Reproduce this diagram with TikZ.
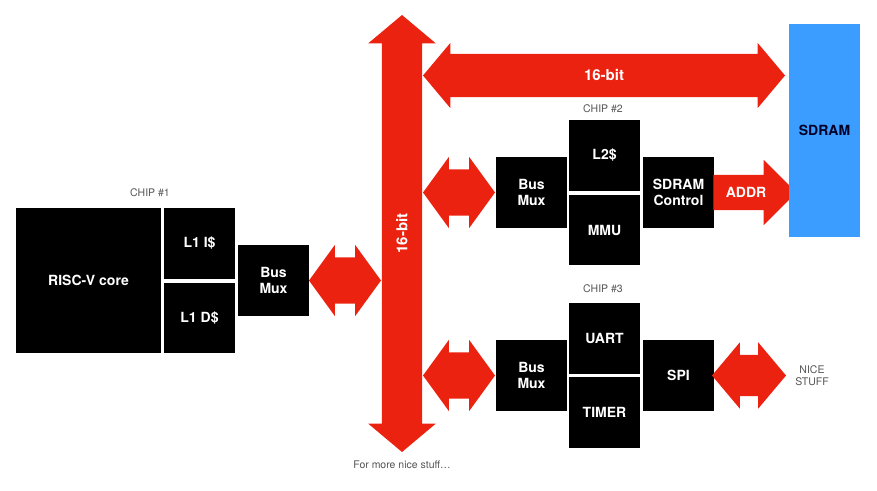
\documentclass[tikz,border=0pt]{standalone}
\usepackage{fontspec}
\setmainfont{TeX Gyre Heros}
\usepackage{xcolor}
\usepackage{tikz}
\usetikzlibrary{shapes,shapes.arrows,arrows.meta,positioning,calc}
\definecolor{busred}{RGB}{236,34,16}
\definecolor{ramblue}{RGB}{59,157,255}
\definecolor{notegray}{RGB}{85,85,85}

\begin{document}
\begin{tikzpicture}[
    x=1pt, y=-1pt,
    blk/.style={rectangle, fill=black, text=white, inner sep=0pt, minimum width=71pt, minimum height=71pt, align=center, font=\fontsize{14}{16.5}\selectfont\bfseries},
    note/.style={text=notegray, align=center, font=\fontsize{10.5}{12}\selectfont},
    fatbus/.style={double arrow, fill=busred, text=white, inner sep=0pt, double arrow head indent=0pt, font=\fontsize{15}{17}\selectfont\bfseries},
    fatlink/.style={fatbus, inner ysep=23pt, minimum height=72pt, minimum width=71pt, double arrow head extend=12.5pt, double arrow tip angle=108}
]
    \useasboundingbox (0,0) rectangle (877,490);

    % Chip 1: core, caches and bus mux
    \node[blk, minimum width=145pt, minimum height=145pt] (core) at (88.5,280.5) {RISC-V core};
    \node[blk] (icache) at (199.5,243.5) {L1 I\$};
    \node[blk, minimum height=70pt] (dcache) at (199.5,318) {L1 D\$};
    \node[blk] (mux1) at (273.5,280.5) {Bus\\Mux};
    \node[note] at (150,193) {CHIP \#1};

    % Main buses
    \node[fatbus, rotate=90, text height=25.3pt, text depth=14.7pt, minimum height=437pt, minimum width=67pt, double arrow head extend=13.5pt, double arrow tip angle=100] (vbus) at (402,233.5) {16-bit};
    \node[fatbus, text height=26.8pt, text depth=16.2pt, minimum height=362pt, minimum width=65pt, double arrow head extend=11pt, double arrow tip angle=100] (hbus) at (604,75.5) {16-bit};
    \node[fatlink] (link1) at (345,280.5) {};
    \node[note] at (402,465) {For more nice stuff\ldots};

    % Chip 2: memory side
    \node[blk] (mux2) at (531.5,192.5) {Bus\\Mux};
    \node[blk] (ltwo) at (604.5,155.5) {L2\$};
    \node[blk, minimum height=70pt] (mmu) at (604.5,230) {MMU};
    \node[blk] (sdctl) at (678.5,192.5) {SDRAM\\Control};
    \node[note] at (603,109) {CHIP \#2};
    \node[fatlink] (link2) at (459,192.5) {};
    \node[single arrow, fill=busred, text=white, inner sep=0pt, text height=22.5pt, text depth=12.5pt, single arrow head indent=0pt, minimum height=83pt, minimum width=65pt, single arrow head extend=15pt, font=\fontsize{14}{16.5}\selectfont\bfseries] (addr) at (746,192.5) {ADDR};

    \node[rectangle, fill=ramblue, minimum width=71pt, minimum height=213pt, inner sep=0pt, font=\fontsize{14}{16.5}\selectfont\bfseries, text=black!85!blue] (sdram) at (824.5,130.5) {SDRAM};

    % Chip 3: peripherals
    \node[blk] (mux3) at (531.5,375.5) {Bus\\Mux};
    \node[blk] (uart) at (604.5,338.5) {UART};
    \node[blk] (timer) at (604.5,412.5) {TIMER};
    \node[blk] (spi) at (678.5,375.5) {SPI};
    \node[note] at (603,289) {CHIP \#3};
    \node[fatlink] (link3) at (459,375.5) {};
    \node[fatlink, inner ysep=20.5pt, minimum height=74pt, minimum width=66pt, double arrow tip angle=100] (spilink) at (749,375.5) {};
    \node[note] (nice) at (812,376) {NICE\\STUFF};
\end{tikzpicture}
\end{document}
